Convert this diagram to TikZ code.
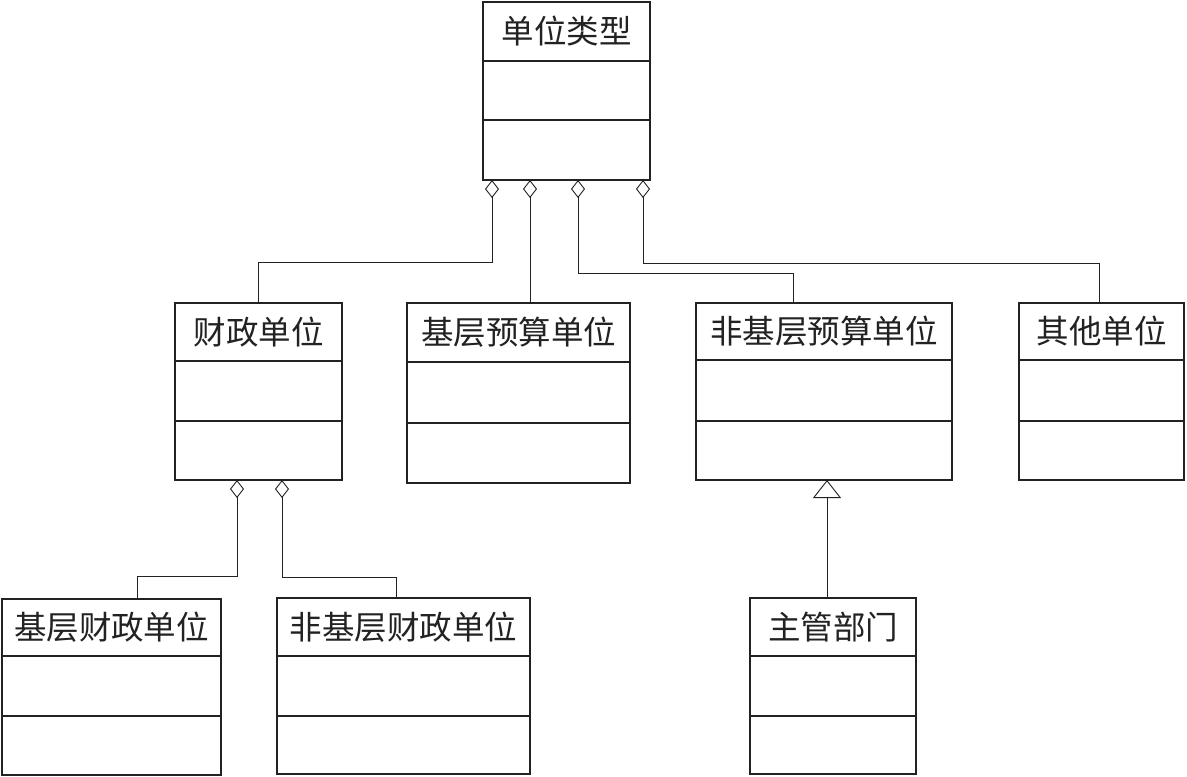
\documentclass[tikz,border=0pt]{standalone}
\usepackage{fontspec}
\newfontfamily\cjk{Noto Sans CJK SC}
\usetikzlibrary{arrows.meta}
\definecolor{ink}{HTML}{222222}
\tikzset{
  cls/.style={draw=ink, line width=1.2pt, rectangle, inner sep=0pt, outer sep=0pt, anchor=north west, fill=white},
  divider/.style={draw=ink, line width=1.2pt},
  title/.style={font=\cjk\fontsize{32.5pt}{32.5pt}\selectfont, text=ink, inner sep=0pt},
  agg/.style={draw=ink, line width=0.9pt, {Diamond[open, length=18pt, width=14pt, line width=0.9pt]}-},
  gen/.style={draw=ink, line width=0.9pt, -{Triangle[open, length=18pt, width=28pt, line width=0.9pt]}},
}
% \umlcls{name}{x}{y}{W}{H}{a}{b}{text}
\newcommand\umlcls[8]{%
  \node[cls, minimum width=#4pt, minimum height=#5pt] (#1) at (#2,#3) {};
  \draw[divider] ([yshift=-#6pt]#1.north west) -- ([yshift=-#6pt]#1.north east);
  \draw[divider] ([yshift=-#7pt]#1.north west) -- ([yshift=-#7pt]#1.north east);
  \node[title] (#1t) at ([yshift=-#6pt/2]#1.north) {#8};
}
\begin{document}
\begin{tikzpicture}[x=1pt,y=-1pt]
\useasboundingbox[fill=white] (0,0) rectangle (1187,777);
\umlcls{T}{483}{2}{167}{178}{59}{118}{单位类型}
\umlcls{F}{175}{303}{167}{177}{58}{118}{财政单位}
\umlcls{J}{407}{303}{223}{180}{59}{120}{基层预算单位}
\umlcls{N}{696}{303}{256}{177}{57}{118}{非基层预算单位}
\umlcls{Q}{1019}{303}{165}{177}{57}{118}{其他单位}
\umlcls{JF}{2}{599}{219}{176}{57}{117}{基层财政单位}
\umlcls{NF}{277}{598}{253}{176}{58}{118}{非基层财政单位}
\umlcls{Z}{750}{598}{166}{176}{58}{118}{主管部门}
% aggregations from 单位类型
\draw[agg] ([xshift=9pt]T.south west) |- ([yshift=41pt]F.north) -- (F.north);
\draw[agg] ([xshift=47pt]T.south west) -- ([xshift=47pt]T.south west |- J.north);
\draw[agg] ([xshift=95pt]T.south west) |- ([xshift=-31pt,yshift=30pt]N.north) -- ([xshift=-31pt]N.north);
\draw[agg] ([xshift=160pt]T.south west) |- ([xshift=-2.5pt,yshift=40pt]Q.north) -- ([xshift=-2.5pt]Q.north);
% aggregations from 财政单位
\draw[agg] ([xshift=62pt]F.south west) |- ([xshift=25.5pt,yshift=23pt]JF.north) -- ([xshift=25.5pt]JF.north);
\draw[agg] ([xshift=107pt]F.south west) |- ([xshift=-7.5pt,yshift=21pt]NF.north) -- ([xshift=-7.5pt]NF.north);
% generalization
\draw[gen] ([xshift=-6pt]Z.north) -- ([xshift=-6pt]Z.north |- N.south);
\end{tikzpicture}
\end{document}
